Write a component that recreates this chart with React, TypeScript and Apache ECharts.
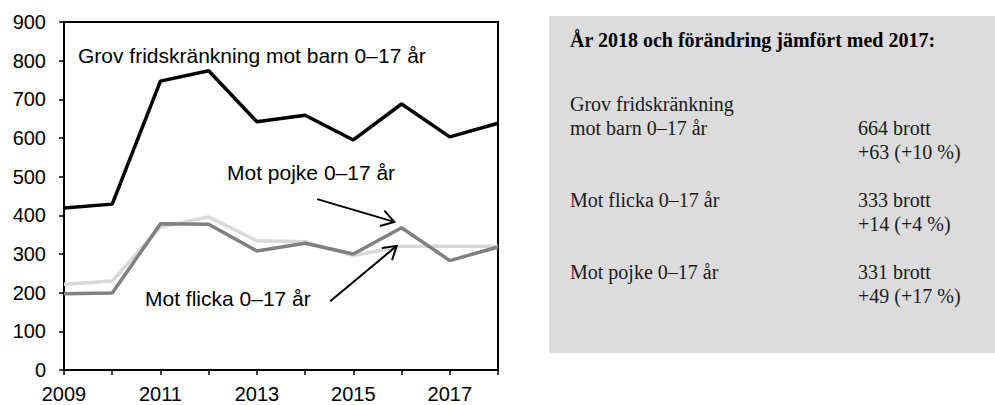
import React, { useEffect, useRef } from "react";
import * as echarts from "echarts";

const years = [2009, 2010, 2011, 2012, 2013, 2014, 2015, 2016, 2017, 2018];
const totalValues = [419, 429, 747, 774, 642, 659, 595, 688, 603, 638];
const girlValues = [222, 230, 370, 396, 334, 332, 296, 320, 320, 320];
const boyValues = [197, 199, 378, 377, 308, 328, 300, 368, 283, 318];

const chartLabels = [
  { text: "Grov fridskränkning mot barn 0–17 år", x: 78, y: 55 },
  { text: "Mot pojke 0–17 år", x: 227, y: 172 },
  { text: "Mot flicka 0–17 år", x: 145, y: 298 },
];

// arrows in data coordinates: [fromYear, fromValue, toYear, toValue]
const arrows = [
  [2014.25, 442, 2015.85, 383],
  [2014.52, 178, 2015.9, 321],
];

const summaryTitle = "År 2018 och förändring jämfört med 2017:";
const summaryLeft = [
  { text: "Grov fridskränkning", y: 104 },
  { text: "mot barn 0–17 år", y: 128 },
  { text: "Mot flicka 0–17 år", y: 200 },
  { text: "Mot pojke 0–17 år", y: 272 },
];
const summaryRight = [
  { text: "664 brott", y: 128 },
  { text: "+63 (+10 %)", y: 152 },
  { text: "333 brott", y: 200 },
  { text: "+14 (+4 %)", y: 224 },
  { text: "331 brott", y: 272 },
  { text: "+49 (+17 %)", y: 296 },
];

const SANS = '"Liberation Sans", Arial, sans-serif';
const SERIF = '"Liberation Serif", "Times New Roman", serif';

export default function App() {
  const ref = useRef<HTMLDivElement>(null);
  useEffect(() => {
    document.body.style.margin = "0";
    if (!ref.current) return;
    const chart = echarts.init(ref.current, null, { renderer: "svg" });
    const pair = (vals: number[]) => years.map((y, i) => [y, vals[i]]);
    chart.setOption({
      animation: false,
      backgroundColor: "#ffffff",
      grid: {
        left: 64,
        top: 22,
        right: 497,
        bottom: 35,
        show: true,
        borderColor: "#000",
        borderWidth: 2,
        backgroundColor: "transparent",
      },
      xAxis: {
        type: "value",
        min: 2009,
        max: 2018,
        interval: 1,
        axisLine: { show: true, lineStyle: { color: "#000", width: 2 } },
        axisTick: { show: true, length: 5, lineStyle: { color: "#000", width: 1.5 } },
        splitLine: { show: false },
        axisLabel: {
          color: "#000",
          fontFamily: SANS,
          fontSize: 20,
          margin: 14,
          formatter: (v: number) => (v % 2 === 1 ? String(v) : ""),
        },
      },
      yAxis: {
        type: "value",
        min: 0,
        max: 900,
        interval: 100,
        axisLine: { show: true, lineStyle: { color: "#000", width: 2 } },
        axisTick: { show: true, length: 5, lineStyle: { color: "#000", width: 1.5 } },
        splitLine: { show: false },
        axisLabel: { color: "#000", fontFamily: SANS, fontSize: 20, margin: 18 },
      },
      series: [
        {
          type: "line",
          name: "Mot flicka 0–17 år",
          data: pair(girlValues),
          symbol: "none",
          lineStyle: { color: "#d9d9d9", width: 3.5 },
          z: 2,
        },
        {
          type: "line",
          name: "Mot pojke 0–17 år",
          data: pair(boyValues),
          symbol: "none",
          lineStyle: { color: "#808080", width: 3.5 },
          z: 3,
        },
        {
          type: "line",
          name: "Grov fridskränkning mot barn 0–17 år",
          data: pair(totalValues),
          symbol: "none",
          lineStyle: { color: "#000000", width: 3.5 },
          z: 4,
        },
      ],
    });

    const graphics: any[] = [];
    graphics.push({
      type: "rect",
      shape: { x: 549, y: 16, width: 446, height: 337 },
      style: { fill: "#dcdcdc" },
      z: 0,
    });
    graphics.push({
      type: "text",
      x: 570,
      y: 40,
      style: {
        text: summaryTitle,
        fontFamily: SERIF,
        fontSize: 20,
        fontWeight: "bold",
        fill: "#000",
        verticalAlign: "middle",
      },
      z: 5,
    });
    summaryLeft.forEach((r) =>
      graphics.push({
        type: "text",
        x: 570,
        y: r.y,
        style: { text: r.text, fontFamily: SERIF, fontSize: 20, fill: "#1a1a1a", verticalAlign: "middle" },
        z: 5,
      })
    );
    summaryRight.forEach((r) =>
      graphics.push({
        type: "text",
        x: 858,
        y: r.y,
        style: { text: r.text, fontFamily: SERIF, fontSize: 20, fill: "#1a1a1a", verticalAlign: "middle" },
        z: 5,
      })
    );
    chartLabels.forEach((l) =>
      graphics.push({
        type: "text",
        x: l.x,
        y: l.y,
        style: { text: l.text, fontFamily: SANS, fontSize: 21, fill: "#000", verticalAlign: "middle" },
        z: 10,
      })
    );
    arrows.forEach((a) => {
      const p0 = chart.convertToPixel({ gridIndex: 0 }, [a[0], a[1]]) as number[];
      const p1 = chart.convertToPixel({ gridIndex: 0 }, [a[2], a[3]]) as number[];
      const dx = p1[0] - p0[0];
      const dy = p1[1] - p0[1];
      const len = Math.sqrt(dx * dx + dy * dy);
      const ux = dx / len;
      const uy = dy / len;
      const L = 15;
      const ang = (32 * Math.PI) / 180;
      const rot = (s: number) => [
        ux * Math.cos(s * ang) - uy * Math.sin(s * ang),
        ux * Math.sin(s * ang) + uy * Math.cos(s * ang),
      ];
      const r1 = rot(1);
      const r2 = rot(-1);
      graphics.push({
        type: "line",
        shape: { x1: p0[0], y1: p0[1], x2: p1[0], y2: p1[1] },
        style: { stroke: "#000", lineWidth: 2 },
        z: 10,
      });
      graphics.push({
        type: "polyline",
        shape: {
          points: [
            [p1[0] - L * r1[0], p1[1] - L * r1[1]],
            [p1[0], p1[1]],
            [p1[0] - L * r2[0], p1[1] - L * r2[1]],
          ],
        },
        style: { stroke: "#000", lineWidth: 2, fill: null },
        z: 10,
      });
    });
    chart.setOption({ graphic: graphics });
    return () => chart.dispose();
  }, []);
  return <div ref={ref} style={{ width: 995, height: 405 }} />;
}
